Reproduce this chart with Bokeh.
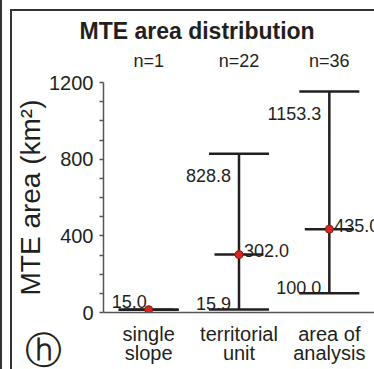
from bokeh.plotting import figure
from bokeh.models import (FactorRange, Range1d, Whisker, ColumnDataSource, FixedTicker,
                          CategoricalAxis, Title, TeeHead)
from bokeh.embed import file_html
from bokeh.resources import INLINE
from bokeh.core.properties import value

# ---- data ----
categories = ["single slope", "territorial unit", "area of analysis"]
label_line1 = ["single", "territorial", "area of"]
label_line2 = ["slope", "unit", "analysis"]
n_counts = [1, 22, 36]
min_vals = [15.0, 15.9, 100.0]
median_vals = [15.0, 302.0, 435.0]
max_vals = [15.0, 828.8, 1153.3]
y_ticks = [0, 400, 800, 1200]
y_minor_ticks = [100, 200, 300, 500, 600, 700, 900, 1000, 1100]

FONT = "Liberation Sans"
INK = "#231f20"
AX = "#555555"

n_labels = [f"n={n}" for n in n_counts]

p = figure(width=374, height=369,
           x_range=FactorRange(*categories, range_padding=0),
           y_range=Range1d(0, 1200),
           x_axis_location=None,
           output_backend="svg", toolbar_location=None,
           min_border_left=103, min_border_right=0,
           min_border_top=82, min_border_bottom=57,
           title="MTE area distribution")
p.extra_x_ranges = {
    "n": FactorRange(*n_labels, range_padding=0),
    "l1": FactorRange(*label_line1, range_padding=0),
    "l2": FactorRange(*label_line2, range_padding=0),
}
p.outline_line_color = None
p.grid.visible = False
p.background_fill_color = "white"
p.border_fill_color = None

p.title.text_font = FONT
p.title.text_font_size = "23px"
p.title.text_font_style = "bold"
p.title.text_color = INK
p.title.align = "left"
p.title.offset = -24
p.title.standoff = 7

# y axis
ya = p.yaxis[0]
ya.ticker = FixedTicker(ticks=y_ticks, minor_ticks=y_minor_ticks)
ya.axis_label = "MTE area (km²)"
ya.axis_label_text_font = FONT
ya.axis_label_text_font_size = "28px"
ya.axis_label_text_font_style = "normal"
ya.axis_label_text_color = INK
ya.axis_label_standoff = 0
ya.major_label_text_font = FONT
ya.major_label_text_font_size = "20px"
ya.major_label_text_color = INK
ya.major_label_standoff = 6
ya.axis_line_color = AX
ya.axis_line_width = 1.5
ya.major_tick_line_color = AX
ya.minor_tick_line_color = AX
ya.major_tick_line_width = 1.5
ya.minor_tick_line_width = 1.5
ya.major_tick_in = 0
ya.major_tick_out = 4
ya.minor_tick_in = 0
ya.minor_tick_out = 4

def cat_axis(range_name, size, standoff, line=False):
    a = CategoricalAxis(x_range_name=range_name)
    a.major_tick_line_color = None
    a.minor_tick_line_color = None
    a.major_tick_in = 0
    a.major_tick_out = 0
    a.minor_tick_in = 0
    a.minor_tick_out = 0
    a.axis_line_color = AX if line else None
    a.axis_line_width = 1.5
    a.major_label_text_font = FONT
    a.major_label_text_font_size = size
    a.major_label_text_color = INK
    a.major_label_standoff = standoff
    return a

# two-line category labels below (panel letter sits between the two rows), n labels above
p.add_layout(cat_axis("l1", "20px", 10, line=True), "below")
p.add_layout(Title(text="ⓗ", align="left", offset=-79, standoff=-40,
                   vertical_align="middle", text_font="DejaVu Sans",
                   text_font_size="37px", text_font_style="normal",
                   text_color=INK), "below")
p.add_layout(cat_axis("l2", "20px", -11), "below")
p.add_layout(cat_axis("n", "18px", 12), "above")

# whiskers (min .. max)
src = ColumnDataSource(dict(base=categories, lower=min_vals, upper=max_vals))
head_kw = dict(size=60, line_color=INK, line_width=2.5)
wh = Whisker(base="base", lower="lower", upper="upper", source=src,
             dimension="height", line_color=INK, line_width=2.5,
             upper_head=TeeHead(**head_kw), lower_head=TeeHead(**head_kw))
p.add_layout(wh)

# median lines and dots
p.scatter(x=categories, y=median_vals, marker="dash", size=49,
          line_color=INK, line_width=2.5)
p.scatter(x=categories, y=median_vals, marker="circle", size=8,
          fill_color="#d7261e", line_color="#8a1a12", line_width=1)

txt_kw = dict(text_font=value(FONT), text_font_size="18px", text_color=INK,
              text_baseline="alphabetic")

def fmt(v):
    return f"{v:.1f}"

# single-value category
p.text(x=categories[:1], y=median_vals[:1], text=[fmt(v) for v in median_vals[:1]],
       text_align="right", x_offset=-2, y_offset=-8, **txt_kw)
# max labels
p.text(x=categories[1:], y=max_vals[1:], text=[fmt(v) for v in max_vals[1:]],
       text_align="right", x_offset=-8, y_offset=22, **txt_kw)
# min labels
p.text(x=categories[1:], y=min_vals[1:], text=[fmt(v) for v in min_vals[1:]],
       text_align="right", x_offset=-8, y_offset=-6, **txt_kw)
# median labels
p.text(x=categories[1:], y=median_vals[1:], text=[fmt(v) for v in median_vals[1:]],
       text_align="left", x_offset=5, y_offset=-4, **txt_kw)

# panel frame rules (this panel's left/top rule and the neighbouring panel's rule)
p.styles = {"box-shadow": "inset 2px 0 0 0 #333333, inset 10px 9px 0 0 #ffffff, "
                          "inset 12px 11px 0 0 #333333",
            "background-color": "#ffffff"}

open("out.html", "w").write(file_html(p, INLINE))
